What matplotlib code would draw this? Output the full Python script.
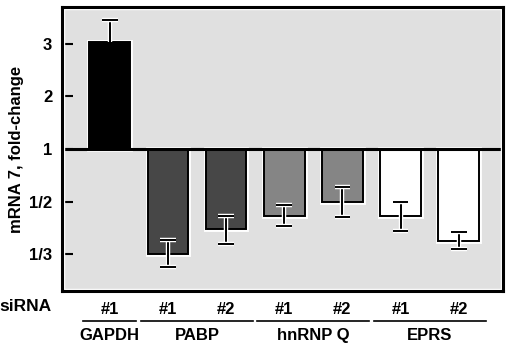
import numpy as np
import matplotlib
matplotlib.use("Agg")
import matplotlib.pyplot as plt
import matplotlib.patheffects as pe

plt.rcParams['font.family'] = ['Liberation Sans', 'DejaVu Sans']
plt.rcParams['font.weight'] = 'bold'

# data (fold-change of mRNA 7)
groups = ["GAPDH", "PABP", "hnRNP Q", "EPRS"]
sirna = ["#1", "#1", "#2", "#1", "#2", "#1", "#2"]
group_of_bar = [0, 1, 1, 2, 2, 3, 3]
fold = [3.04, 0.333, 0.397, 0.439, 0.50, 0.439, 0.364]
err_upper = [3.46, 0.365, 0.439, 0.483, 0.581, 0.50, 0.388]
err_lower = [3.04, 0.308, 0.357, 0.405, 0.435, 0.391, 0.344]
colors = ["#000000", "#474747", "#474747", "#858585", "#858585", "#ffffff", "#ffffff"]
ytick_vals = [1/3, 1/2, 1, 2, 3]
ytick_labels = ["1/3", "1/2", "1", "2", "3"]


def fwd(v):
    v = np.clip(np.asarray(v, dtype=float), 1e-3, None)
    return np.where(v >= 1, v - 1, 1 - 1 / v)


def inv(y):
    y = np.asarray(y, dtype=float)
    return np.where(y >= 0, y + 1, 1 / (1 - np.minimum(y, 0)))


fig = plt.figure(figsize=(5.1, 3.45), dpi=100)
ax = fig.add_axes([62 / 510, 54 / 345, 441 / 510, 284 / 345])
ax.set_facecolor("#e0e0e0")
ax.set_yscale("function", functions=(fwd, inv))
ax.set_ylim(inv(-2.70), inv(2.70))
ax.set_xlim(-0.82, 6.76)

x = np.arange(len(fold))
fold = np.array(fold)
halo = [pe.withStroke(linewidth=3.5, foreground="white")]
bars = ax.bar(x, fold - 1, bottom=1, width=0.70, color=colors,
              edgecolor="black", linewidth=1.4, zorder=3)
for b in bars:
    b.set_path_effects(halo)

# error bars (GAPDH shows only the upper whisker)
cap = 0.135
ehalo = [pe.withStroke(linewidth=3.2, foreground="white")]
for xi, lo, hi, m in zip(x, err_lower, err_upper, fold):
    segs = [ax.vlines(xi, lo, hi, color="black", linewidth=1.4, zorder=4),
            ax.hlines(hi, xi - cap, xi + cap, color="black", linewidth=1.4, zorder=4)]
    if lo != m:
        segs.append(ax.hlines(lo, xi - cap, xi + cap, color="black", linewidth=1.4, zorder=4))
    for s in segs:
        s.set_path_effects(ehalo)

ax.axhline(1, color="black", linewidth=2.2, zorder=5)

ax.set_yticks(ytick_vals)
ax.set_yticklabels(ytick_labels, fontsize=12, fontweight="bold")
ax.minorticks_off()
ax.tick_params(axis="y", direction="in", length=8, width=1.5, pad=7)
ax.set_xticks(x)
ax.set_xticklabels(sirna, fontsize=12, fontweight="bold")
ax.tick_params(axis="x", length=0, pad=8)
ax.set_ylabel("mRNA 7, fold-change", fontsize=12, fontweight="bold", labelpad=4)

for s in ax.spines.values():
    s.set_linewidth(2.2)
    s.set_zorder(6)
ax.add_patch(plt.Rectangle((0.004, 0.006), 0.992, 0.988, transform=ax.transAxes,
                           fill=False, edgecolor="white", linewidth=1, zorder=5.5))

trans = ax.get_xaxis_transform()
ax.text(-1.0, -0.056, "siRNA", transform=trans, ha="right", va="center",
        fontsize=12.5, fontweight="bold")
for gi, name in enumerate(groups):
    members = [i for i, g in enumerate(group_of_bar) if g == gi]
    left, right = min(members) - 0.46, max(members) + 0.46
    ax.plot([left, right], [-0.106, -0.106], transform=trans, color="black",
            linewidth=1.2, clip_on=False)
    ax.text((left + right) / 2, -0.155, name, transform=trans, ha="center",
            va="center", fontsize=12, fontweight="bold")

fig.savefig("out.png", dpi=100)
